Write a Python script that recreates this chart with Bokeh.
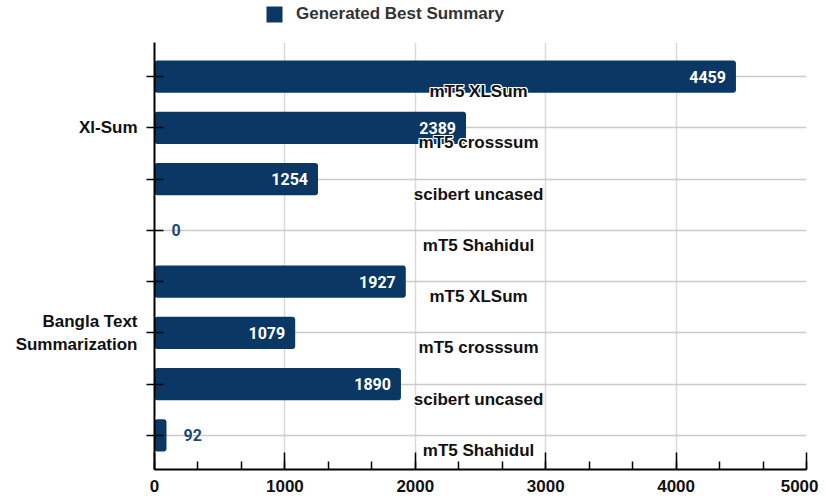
from bokeh.plotting import figure
from bokeh.layouts import column
from bokeh.models import (ColumnDataSource, Range1d, FixedTicker, SingleIntervalTicker,
                          Legend, LegendItem)
from bokeh.core.properties import value
from bokeh.embed import file_html
from bokeh.resources import INLINE

# ---- data ----
datasets = ["Xl-Sum", "Bangla Text\nSummarization"]
models = ["mT5 XLSum", "mT5 crosssum", "scibert uncased", "mT5 Shahidul",
          "mT5 XLSum", "mT5 crosssum", "scibert uncased", "mT5 Shahidul"]
counts = [4459, 2389, 1254, 0, 1927, 1079, 1890, 92]
series_name = "Generated Best Summary"
x_ticks = [0, 1000, 2000, 3000, 4000, 5000]

BAR = "#0a3764"
FONT = "Liberation Sans"
W = 818

n = len(counts)
ypos = list(range(n))
inside = [c >= 300 for c in counts]
src = ColumnDataSource(dict(y=ypos, v=counts, lab=[str(c) for c in counts], model=models))
src_in = ColumnDataSource(dict(y=[y for y, k in zip(ypos, inside) if k],
                               v=[c for c, k in zip(counts, inside) if k],
                               lab=[str(c) for c, k in zip(counts, inside) if k]))
src_out = ColumnDataSource(dict(y=[y for y, k in zip(ypos, inside) if not k],
                                v=[c for c, k in zip(counts, inside) if not k],
                                lab=[str(c) for c, k in zip(counts, inside) if not k]))
label_x = 2485
src_model = ColumnDataSource(dict(y=ypos, x=[label_x] * n, t=models))

# ---- legend strip on top (its frame is aligned with the main chart's frame) ----
lf = figure(width=W, height=42, output_backend="svg", toolbar_location=None,
            x_axis_type=None, y_axis_type=None, min_border=0,
            x_range=Range1d(0, 1), y_range=Range1d(0, 1))
lf.outline_line_color = None
lf.grid.visible = False
# legend-only renderer: its single bar lies outside the visible range
dummy = lf.hbar(y=[-10], right=[1], left=0, height=0.5, fill_color=BAR, line_color=None,
                border_radius=3)
legend = Legend(items=[LegendItem(label=series_name, renderers=[dummy])],
                location=(110, 18), orientation="horizontal",
                glyph_width=20, glyph_height=20, label_standoff=12,
                padding=0, margin=0, border_line_color=None,
                background_fill_alpha=0,
                label_text_font=FONT, label_text_font_style="bold",
                label_text_font_size="17px", label_text_color="#333333")
lf.add_layout(legend, "center")

# ---- main chart ----
pad = 0.164
p = figure(width=W, height=459, output_backend="svg", toolbar_location=None,
           x_range=Range1d(0, 5000), y_range=Range1d(n - 0.5 + pad, -0.5 - pad),
           min_border_left=154, min_border_right=12, min_border_top=0, min_border_bottom=32)
p.outline_line_color = None
p.background_fill_color = "white"

bars = p.hbar(y="y", right="v", left=0, height=0.63, source=src, fill_color=BAR,
              line_color=None, border_radius=3)

p.text(x="v", y="y", text="lab", source=src_in, text_color="white",
       text_font=value("Roboto"), text_font_style="bold", text_font_size="16px",
       text_align="right", text_baseline="middle", x_offset=-10)
p.text(x="v", y="y", text="lab", source=src_out, text_color="#1c4a78",
       text_font=value("Roboto"), text_font_style="bold", text_font_size="16px",
       text_align="left", text_baseline="middle", x_offset=17)

# white halo behind model labels
for dx, dy in [(-1, -1), (0, -1), (1, -1), (-1, 0), (1, 0), (-1, 1), (0, 1), (1, 1)]:
    p.text(x="x", y="y", text="t", source=src_model, text_color="white",
           text_font=value(FONT), text_font_style="bold", text_font_size="17px",
           text_align="center", text_baseline="middle", x_offset=dx, y_offset=15 + dy)
p.text(x="x", y="y", text="t", source=src_model, text_color="#111111",
       text_font=value(FONT), text_font_style="bold", text_font_size="17px",
       text_align="center", text_baseline="middle", y_offset=15)

# grids
p.xgrid.ticker = FixedTicker(ticks=x_ticks)
p.xgrid.grid_line_color = "#d9d9d9"
p.xgrid.grid_line_width = 1.5
p.ygrid.ticker = FixedTicker(ticks=ypos)
p.ygrid.grid_line_color = "#cccccc"
p.ygrid.grid_line_width = 1.5

# x axis
xa = p.xaxis[0]
xa.ticker = SingleIntervalTicker(interval=1000, num_minor_ticks=3)
xa.axis_line_color = "black"
xa.axis_line_width = 2
xa.major_tick_in = 17
xa.major_tick_out = 0
xa.minor_tick_in = 8
xa.minor_tick_out = 0
xa.major_tick_line_width = 1.5
xa.minor_tick_line_width = 1.5
xa.major_tick_line_color = "black"
xa.minor_tick_line_color = "black"
xa.major_label_text_font = FONT
xa.major_label_text_font_style = "bold"
xa.major_label_text_font_size = "17px"
xa.major_label_text_color = "#111111"
xa.major_label_standoff = 10

# y axis
ya = p.yaxis[0]
ya.ticker = FixedTicker(ticks=ypos)
overrides = {i: "" for i in ypos}
overrides[1] = datasets[0]
overrides[5] = datasets[1]
ya.major_label_overrides = overrides
ya.axis_line_color = "black"
ya.axis_line_width = 2
ya.major_tick_in = 9
ya.major_tick_out = 8
ya.major_tick_line_width = 1.5
ya.major_tick_line_color = "black"
ya.minor_tick_line_color = None
ya.major_label_text_font = FONT
ya.major_label_text_font_style = "bold"
ya.major_label_text_font_size = "17px"
ya.major_label_text_color = "#111111"
ya.major_label_standoff = 9

layout = column(lf, p, spacing=0)
open("out.html", "w").write(file_html(layout, INLINE))
